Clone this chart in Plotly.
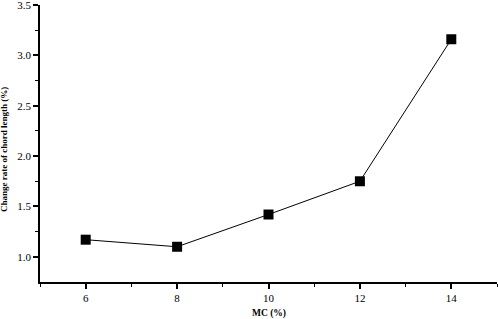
import plotly.graph_objects as go

mc = [6, 8, 10, 12, 14]
change_rate = [1.17, 1.10, 1.42, 1.75, 3.16]

fig = go.Figure()
fig.add_trace(go.Scatter(
    x=mc, y=change_rate, mode="lines+markers",
    line=dict(color="black", width=1),
    marker=dict(symbol="square", size=10, color="black"),
    showlegend=False,
    cliponaxis=False,
))

font = dict(family="Liberation Serif, Times New Roman, serif", color="black")
fig.update_layout(
    width=498, height=319,
    margin=dict(l=40, r=1, t=5, b=37),
    paper_bgcolor="white", plot_bgcolor="white",
    font=dict(size=11, **font),
)
fig.update_xaxes(
    range=[5, 15], tickvals=[6, 8, 10, 12, 14],
    showline=True, linecolor="black", linewidth=1.5,
    ticks="outside", ticklen=5, tickwidth=1.5, tickcolor="black",
    minor=dict(tickvals=[5, 7, 9, 11, 13, 15], ticks="outside", ticklen=3, tickwidth=1.2, tickcolor="black"),
    showgrid=False, zeroline=False, automargin=False,
    ticklabeloverflow="allow",
    tickfont=dict(size=11, **font),
)
fig.update_yaxes(
    range=[0.75, 3.5], tickvals=[1.0, 1.5, 2.0, 2.5, 3.0, 3.5], tickformat=".1f",
    showline=True, linecolor="black", linewidth=1.5,
    ticks="outside", ticklen=5, tickwidth=1.5, tickcolor="black",
    minor=dict(tickvals=[1.25, 1.75, 2.25, 2.75, 3.25], ticks="outside", ticklen=3, tickwidth=1.2, tickcolor="black"),
    showgrid=False, zeroline=False, automargin=False,
    ticklabeloverflow="allow",
    tickfont=dict(size=11, **font),
)
fig.add_annotation(
    text="<b>MC (%)</b>", xref="paper", yref="paper", x=0.5, y=-0.1155,
    xanchor="center", yanchor="middle", showarrow=False, font=dict(size=9.5, **font),
)
fig.add_annotation(
    text="<b>Change rate of chord length (%)</b>", xref="paper", yref="paper", x=-0.0788, y=0.48,
    xanchor="center", yanchor="middle", textangle=-90, showarrow=False, font=dict(size=9, **font),
)

fig.write_html(
    "out.html",
    config={"displayModeBar": False},
    post_script="document.body.style.margin='0';document.body.style.overflow='hidden';",
)
